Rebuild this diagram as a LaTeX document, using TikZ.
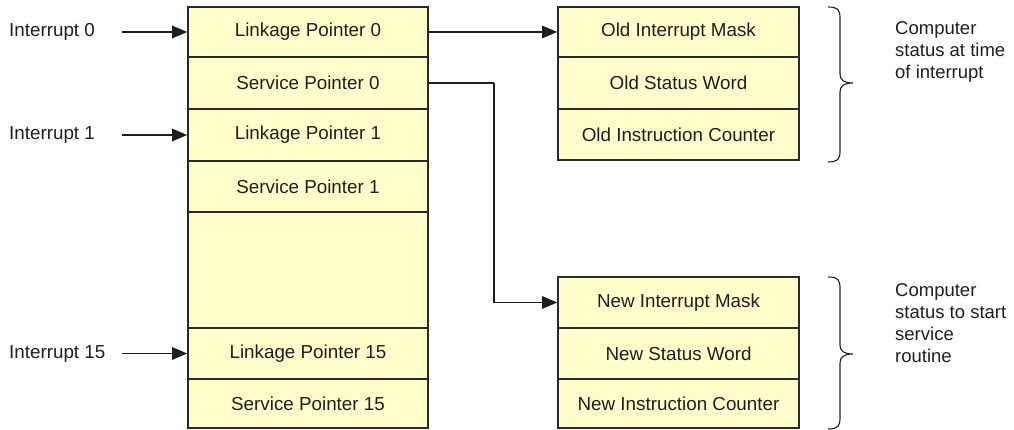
\documentclass[tikz,border=0pt]{standalone}
\usepackage{fontspec}
\setmainfont{Liberation Sans}
\usetikzlibrary{arrows.meta}
\definecolor{cellfill}{HTML}{FFFFCC}
\definecolor{edge}{HTML}{2A2A2A}
\definecolor{ink}{HTML}{1E1E1E}
\tikzset{
  cell/.style={draw=edge, fill=cellfill, line width=1.6pt, rectangle,
    inner sep=0pt, text=ink, font=\fontsize{18.8}{21}\selectfont},
  lcell/.style={cell, minimum width=240pt},
  rcell/.style={cell, minimum width=241pt},
  lbl/.style={anchor=west, inner sep=0pt, text=ink, font=\fontsize{18.8}{21}\selectfont},
  note/.style={anchor=north west, inner sep=0pt, align=left, text=ink,
    font=\fontsize{18.5}{22}\selectfont},
  arr/.style={draw=ink, line width=1.3pt, -{Triangle[length=15pt,width=12.5pt]}},
  wire/.style={draw=ink, line width=1.3pt},
  brace/.style={draw=ink, line width=1.1pt}
}
\begin{document}
\begin{tikzpicture}[x=1pt, y=-1pt]
\useasboundingbox (0,0) rectangle (1014,430);

% vector table
\node[lcell, minimum height=50pt]  (lp0)  at (308,32)    {Linkage Pointer 0};
\node[lcell, minimum height=52pt]  (sp0)  at (308,83)    {Service Pointer 0};
\node[lcell, minimum height=52pt]  (lp1)  at (308,135)   {Linkage Pointer 1};
\node[lcell, minimum height=51pt]  (sp1)  at (308,186.5) {Service Pointer 1};
\node[lcell, minimum height=116pt] (gap)  at (308,270)   {};
\node[lcell, minimum height=51pt]  (lp15) at (308,353.5) {Linkage Pointer 15};
\node[lcell, minimum height=49pt]  (sp15) at (308,403.5) {Service Pointer 15};

% saved status
\node[rcell, minimum height=50pt] (oim) at (678.5,32)    {Old Interrupt Mask};
\node[rcell, minimum height=52pt] (osw) at (678.5,83)    {Old Status Word};
\node[rcell, minimum height=51pt] (oic) at (678.5,134.5) {Old Instruction Counter};

% new status
\node[rcell, minimum height=51pt] (nim) at (678.5,302.5) {New Interrupt Mask};
\node[rcell, minimum height=51pt] (nsw) at (678.5,353.5) {New Status Word};
\node[rcell, minimum height=49pt] (nic) at (678.5,403.5) {New Instruction Counter};

% interrupt sources
\node[lbl] (i0)  at (9,32)  {Interrupt 0};
\node[lbl] (i1)  at (9,135) {Interrupt 1};
\node[lbl] (i15) at (9,353.5) {Interrupt 15};
\coordinate (s0)  at (122,32);
\coordinate (s1)  at (122,135);
\coordinate (s15) at (122,353.5);
\draw[arr] (s0)  -- (lp0.west);
\draw[arr] (s1)  -- (lp1.west);
\draw[arr] (s15) -- (lp15.west);

% links
\draw[arr] (lp0.east) -- (oim.west);
\coordinate (bend) at (494,83);
\draw[wire] (sp0.east) -- (bend);
\draw[arr] (bend) |- (nim.west);

% braces
\draw[brace] (828,7) .. controls (838,7) and (840,10) .. (840,18)
  -- (840,74) .. controls (840,80) and (844,83) .. (853,83)
  .. controls (844,83) and (840,86) .. (840,92)
  -- (840,151) .. controls (840,159) and (838,162) .. (828,162);
\draw[brace] (828,277) .. controls (838,277) and (840,280) .. (840,288)
  -- (840,345) .. controls (840,351) and (844,354) .. (853,354)
  .. controls (844,354) and (840,357) .. (840,363)
  -- (840,418) .. controls (840,426) and (838,429) .. (828,429);

% notes
\node[note] (n1) at (895,21)  {Computer\\status at time\\of interrupt};
\node[note] (n2) at (895,283) {Computer\\status to start\\service\\routine};
\end{tikzpicture}
\end{document}
